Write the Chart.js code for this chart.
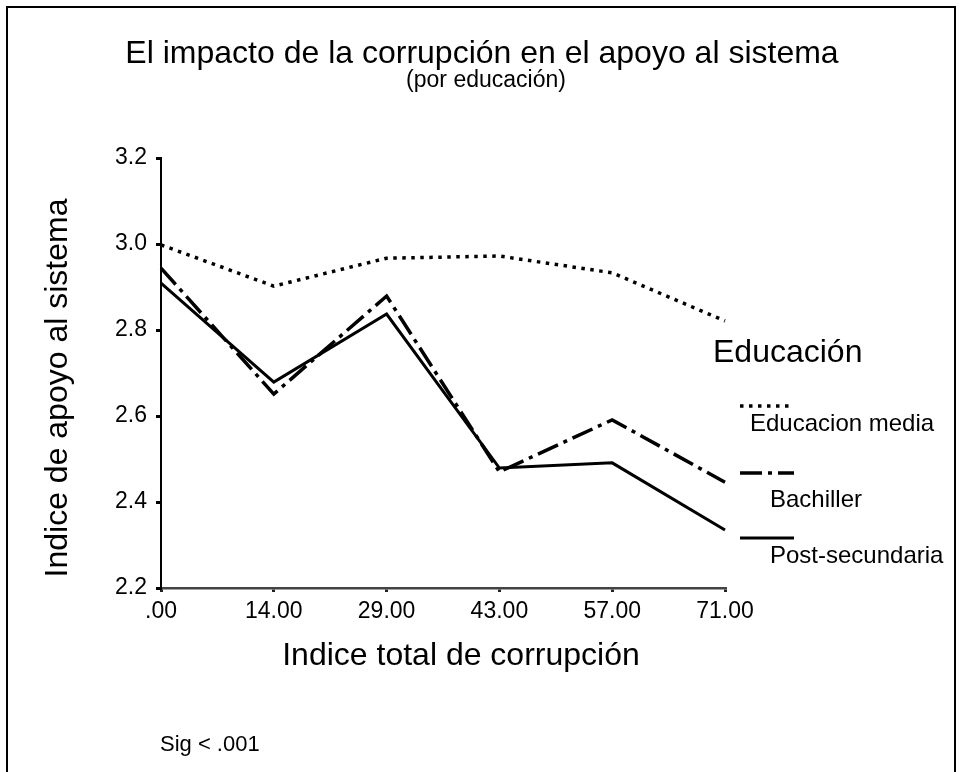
<!DOCTYPE html>
<html lang="es">
<head>
    <meta charset="UTF-8">
    <title>El impacto de la corrupción en el apoyo al sistema</title>
    <script src="https://cdn.jsdelivr.net/npm/chart.js"></script>
    <style>
        body { margin: 0; background: #fff; }
        canvas { display: block; }
    </style>
</head>
<body>
    <canvas id="grafico" width="963" height="772"></canvas>

    <script>
        // Datos
        const corrupcion = ['.00', '14.00', '29.00', '43.00', '57.00', '71.00'];
        const educacionMedia = [2.998, 2.902, 2.967, 2.972, 2.933, 2.821];
        const bachiller = [2.944, 2.651, 2.879, 2.470, 2.591, 2.446];
        const postSecundaria = [2.909, 2.679, 2.837, 2.479, 2.491, 2.335];
        const yTicks = [2.2, 2.4, 2.6, 2.8, 3.0, 3.2];

        const FONT = '"Liberation Sans", Arial, sans-serif';

        // Textos, marco y leyenda dibujados a mano
        const extras = {
            id: 'extras',
            afterDraw(chart) {
                const ctx = chart.ctx;
                ctx.save();

                // marco
                ctx.strokeStyle = '#000';
                ctx.lineWidth = 2;
                ctx.strokeRect(7, 7, 948, 820);

                ctx.fillStyle = '#000';
                ctx.textBaseline = 'alphabetic';

                // títulos
                ctx.textAlign = 'center';
                ctx.font = '32px ' + FONT;
                ctx.fillText('El impacto de la corrupción en el apoyo al sistema', 482, 63);
                ctx.font = '23px ' + FONT;
                ctx.fillText('(por educación)', 486, 87);

                ctx.font = '32px ' + FONT;
                ctx.fillText('Indice total de corrupción', 461, 665);

                ctx.save();
                ctx.translate(67, 388);
                ctx.rotate(-Math.PI / 2);
                ctx.fillText('Indice de apoyo al sistema', 0, 0);
                ctx.restore();

                // leyenda
                ctx.textAlign = 'left';
                ctx.font = '32px ' + FONT;
                ctx.fillText('Educación', 713, 362);

                const items = [
                    { ds: 0, lineY: 406, textX: 750, textY: 431 },
                    { ds: 1, lineY: 473, textX: 770, textY: 507 },
                    { ds: 2, lineY: 538, textX: 770, textY: 563 }
                ];
                items.forEach(it => {
                    const d = chart.data.datasets[it.ds];
                    ctx.save();
                    ctx.strokeStyle = '#000';
                    ctx.lineWidth = d.borderWidth;
                    ctx.lineCap = 'butt';
                    ctx.setLineDash(d.borderDash || []);
                    ctx.beginPath();
                    ctx.moveTo(740, it.lineY);
                    ctx.lineTo(794, it.lineY);
                    ctx.stroke();
                    ctx.restore();
                    ctx.font = '24px ' + FONT;
                    ctx.fillText(d.label, it.textX, it.textY);
                });

                // nota
                ctx.font = '22px ' + FONT;
                ctx.fillText('Sig < .001', 160, 751);

                ctx.restore();
            }
        };

        new Chart(document.getElementById('grafico'), {
            type: 'line',
            data: {
                labels: corrupcion,
                datasets: [
                    {
                        label: 'Educacion media',
                        data: educacionMedia,
                        borderColor: '#000',
                        borderWidth: 3.5,
                        borderDash: [3.5, 5.5],
                        pointRadius: 0,
                        tension: 0
                    },
                    {
                        label: 'Bachiller',
                        data: bachiller,
                        borderColor: '#000',
                        borderWidth: 3.5,
                        borderDash: [22, 6, 4, 6],
                        pointRadius: 0,
                        tension: 0
                    },
                    {
                        label: 'Post-secundaria',
                        data: postSecundaria,
                        borderColor: '#000',
                        borderWidth: 3,
                        pointRadius: 0,
                        tension: 0
                    }
                ]
            },
            options: {
                responsive: false,
                animation: false,
                layout: {
                    autoPadding: false,
                    padding: { top: 158, right: 238, bottom: 0, left: 0 }
                },
                plugins: {
                    legend: { display: false },
                    tooltip: { enabled: false }
                },
                scales: {
                    x: {
                        type: 'category',
                        offset: false,
                        afterFit(scale) { scale.height = 772 - 588; },
                        border: { display: true, color: '#444', width: 2.5 },
                        grid: {
                            display: true,
                            drawOnChartArea: false,
                            drawTicks: true,
                            tickLength: 4,
                            color: '#222',
                            lineWidth: 3
                        },
                        ticks: {
                            color: '#000',
                            padding: 6,
                            maxRotation: 0,
                            font: { family: FONT, size: 23 }
                        }
                    },
                    y: {
                        min: 2.2,
                        max: 3.2,
                        afterFit(scale) { scale.width = 161; },
                        afterBuildTicks(scale) {
                            scale.ticks = yTicks.map(v => ({ value: v }));
                        },
                        border: { display: true, color: '#000', width: 2 },
                        grid: {
                            display: true,
                            drawOnChartArea: false,
                            drawTicks: true,
                            tickLength: 5,
                            color: '#000',
                            lineWidth: 3
                        },
                        ticks: {
                            color: '#000',
                            padding: 9,
                            font: { family: FONT, size: 23 },
                            callback: v => v.toFixed(1)
                        }
                    }
                }
            },
            plugins: [extras]
        });
    </script>
</body>
</html>
